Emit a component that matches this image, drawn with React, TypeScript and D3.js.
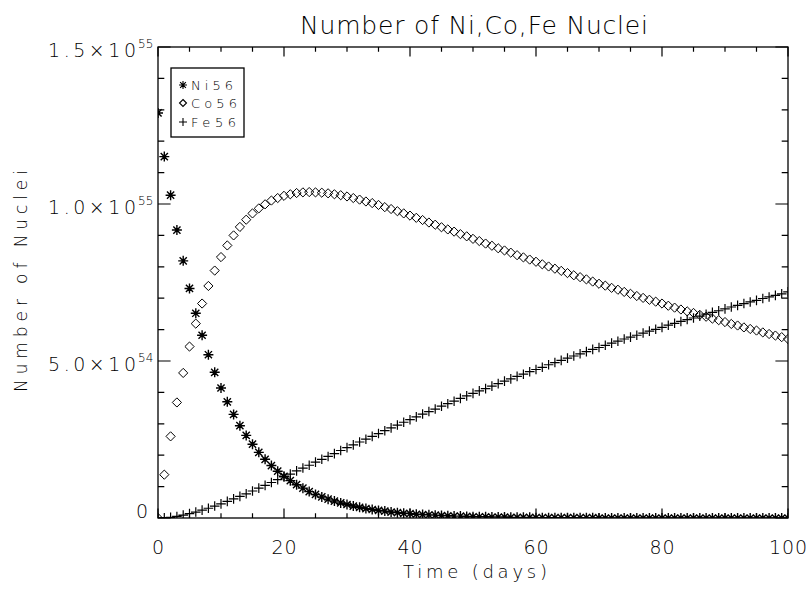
import React from "react";
import * as d3 from "d3";

// Values in units of 1e54 nuclei, one sample per day (day = index, 0..100)
const niValues: number[] = [
  12.90, 11.51, 10.28, 9.17, 8.19, 7.31, 6.52, 5.82, 5.20, 4.64,
  4.14, 3.70, 3.30, 2.94, 2.63, 2.35, 2.09, 1.87, 1.67, 1.49,
  1.33, 1.19, 1.06, 0.95, 0.84, 0.75, 0.67, 0.60, 0.54, 0.48,
  0.43, 0.38, 0.34, 0.30, 0.27, 0.24, 0.22, 0.19, 0.17, 0.15,
  0.14, 0.12, 0.11, 0.10, 0.09, 0.08, 0.07, 0.06, 0.06, 0.05,
  0.04, 0.04, 0.04, 0.03, 0.03, 0.03, 0.02, 0.02, 0.02, 0.02,
  0.01, 0.01, 0.01, 0.01, 0.01, 0.01, 0.01, 0.01, 0.01, 0.01,
  0, 0, 0, 0, 0, 0, 0, 0, 0, 0,
  0, 0, 0, 0, 0, 0, 0, 0, 0, 0,
  0, 0, 0, 0, 0, 0, 0, 0, 0, 0,
  0,
];

const coValues: number[] = [
  0.00, 1.38, 2.60, 3.68, 4.62, 5.46, 6.19, 6.83, 7.39, 7.88,
  8.31, 8.68, 9.00, 9.27, 9.50, 9.70, 9.86, 9.99, 10.11, 10.19,
  10.26, 10.31, 10.35, 10.37, 10.38, 10.37, 10.36, 10.34, 10.31, 10.28,
  10.24, 10.19, 10.14, 10.08, 10.03, 9.97, 9.90, 9.84, 9.77, 9.70,
  9.63, 9.56, 9.49, 9.41, 9.34, 9.26, 9.19, 9.12, 9.04, 8.97,
  8.89, 8.82, 8.74, 8.67, 8.59, 8.52, 8.45, 8.37, 8.30, 8.23,
  8.16, 8.08, 8.01, 7.94, 7.87, 7.80, 7.73, 7.67, 7.60, 7.53,
  7.46, 7.40, 7.33, 7.27, 7.20, 7.14, 7.07, 7.01, 6.95, 6.89,
  6.83, 6.76, 6.70, 6.64, 6.58, 6.53, 6.47, 6.41, 6.35, 6.30,
  6.24, 6.18, 6.13, 6.07, 6.02, 5.97, 5.91, 5.86, 5.81, 5.76,
  5.70,
];

const feValues: number[] = [
  0.00, 0.01, 0.02, 0.05, 0.09, 0.14, 0.19, 0.25, 0.31, 0.38,
  0.45, 0.53, 0.61, 0.69, 0.77, 0.86, 0.95, 1.04, 1.13, 1.22,
  1.31, 1.40, 1.50, 1.59, 1.68, 1.78, 1.87, 1.96, 2.05, 2.15,
  2.24, 2.33, 2.42, 2.51, 2.60, 2.69, 2.78, 2.87, 2.96, 3.05,
  3.13, 3.22, 3.31, 3.39, 3.47, 3.56, 3.64, 3.72, 3.81, 3.89,
  3.97, 4.05, 4.12, 4.20, 4.28, 4.36, 4.43, 4.51, 4.58, 4.66,
  4.73, 4.80, 4.88, 4.95, 5.02, 5.09, 5.16, 5.23, 5.30, 5.37,
  5.43, 5.50, 5.57, 5.63, 5.70, 5.76, 5.82, 5.89, 5.95, 6.01,
  6.07, 6.14, 6.20, 6.26, 6.32, 6.37, 6.43, 6.49, 6.55, 6.60,
  6.66, 6.72, 6.77, 6.83, 6.88, 6.93, 6.99, 7.04, 7.09, 7.14,
  7.20,
];

const xMajorTicks: number[] = [0, 20, 40, 60, 80, 100];
const xMinorTicks: number[] = [5, 10, 15, 25, 30, 35, 45, 50, 55, 65, 70, 75, 85, 90, 95];
const yMajorTicks: number[] = [0, 5, 10, 15];
const yMinorTicks: number[] = [1, 2, 3, 4, 6, 7, 8, 9, 11, 12, 13, 14];
const yTickMain: string[] = ["0", "5.0×10", "1.0×10", "1.5×10"];
const yTickExp: string[] = ["", "54", "55", "55"];

const legendNames: string[] = ["Ni56", "Co56", "Fe56"];
const legendWidths: number[] = [42, 46, 45];

const W = 810;
const H = 592;
const L = 158;
const R = 788;
const T = 47;
const B = 518;
const FONT = "'DejaVu Sans', 'Liberation Sans', Arial, sans-serif";
const FW = 200;

const x = d3.scaleLinear().domain([0, 100]).range([L, R]);
const y = d3.scaleLinear().domain([0, 15]).range([B, T]);

function asterisk(cx: number, cy: number, s: number): string {
  const d = s * 0.72;
  return `M${cx - s},${cy}H${cx + s}M${cx},${cy - s}V${cy + s}M${cx - d},${cy - d}L${cx + d},${cy + d}M${cx - d},${cy + d}L${cx + d},${cy - d}`;
}
function diamond(cx: number, cy: number, s: number): string {
  return `M${cx},${cy - s}L${cx + s},${cy}L${cx},${cy + s}L${cx - s},${cy}Z`;
}
function plus(cx: number, cy: number, s: number): string {
  return `M${cx - s},${cy}H${cx + s}M${cx},${cy - s}V${cy + s}`;
}

export default function App() {
  const xMaj = 9.4;
  const xMin = 4.7;
  const yMaj = 12.6;
  const yMin = 6.3;

  const tickPath =
    xMajorTicks.map((t) => `M${x(t)},${B}V${B - xMaj}M${x(t)},${T}V${T + xMaj}`).join("") +
    xMinorTicks.map((t) => `M${x(t)},${B}V${B - xMin}M${x(t)},${T}V${T + xMin}`).join("") +
    yMajorTicks.map((t) => `M${L},${y(t)}H${L + yMaj}M${R},${y(t)}H${R - yMaj}`).join("") +
    yMinorTicks.map((t) => `M${L},${y(t)}H${L + yMin}M${R},${y(t)}H${R - yMin}`).join("");

  const niPath = niValues.map((v, i) => asterisk(x(i), y(v), 5)).join("");
  const coPath = coValues.map((v, i) => diamond(x(i), y(v), 4.6)).join("");
  const fePath = feValues.map((v, i) => plus(x(i), y(v), 4.8)).join("");

  const legendY = [85, 103, 122];
  const legendShapes = [
    asterisk(183, legendY[0], 4),
    diamond(183, legendY[1], 3.5),
    plus(183, legendY[2], 4),
  ];

  return (
    <svg
      width={W}
      height={H}
      viewBox={`0 0 ${W} ${H}`}
      style={{ position: "absolute", left: 0, top: 0, background: "#fff" }}
      fontFamily={FONT}
      fontWeight={FW}
    >
      <rect x={0} y={0} width={W} height={H} fill="#fff" />
      <defs>
        <clipPath id="plotClip">
          <rect x={L} y={T} width={R - L} height={B - T} />
        </clipPath>
      </defs>

      <text x={474} y={34} fontSize={25} textAnchor="middle" textLength={348} lengthAdjust="spacing" fill="#000">
        Number of Ni,Co,Fe Nuclei
      </text>

      <g clipPath="url(#plotClip)" fill="none" stroke="#000">
        <path d={fePath} strokeWidth={1.2} />
        <path d={coPath} strokeWidth={1} />
        <path d={niPath} strokeWidth={1.4} />
      </g>

      <rect x={L} y={T} width={R - L} height={B - T} fill="none" stroke="#000" strokeWidth={1.3} />
      <path d={tickPath} stroke="#000" strokeWidth={1.2} fill="none" />

      {xMajorTicks.map((t) => {
        const s = String(t);
        return (
          <text
            key={"xl" + t}
            x={x(t)}
            y={554}
            fontSize={19}
            textAnchor="middle"
            textLength={s.length * 13 - 1}
            lengthAdjust="spacing"
            fill="#000"
          >
            {s}
          </text>
        );
      })}

      {yMajorTicks.map((t, i) =>
        t === 0 ? (
          <text key="yl0" x={142} y={518} fontSize={19} textAnchor="middle" fill="#000">
            0
          </text>
        ) : (
          <g key={"yl" + t}>
            <text x={48} y={y(t) + 10} fontSize={19} textLength={88} lengthAdjust="spacing" fill="#000">
              {yTickMain[i]}
            </text>
            <text x={138} y={y(t) + 1} fontSize={12} fill="#000">
              {yTickExp[i]}
            </text>
          </g>
        )
      )}

      <text
        transform="translate(27,281) rotate(-90)"
        fontSize={17}
        textAnchor="middle"
        textLength={222}
        lengthAdjust="spacing"
        fill="#000"
      >
        Number of Nuclei
      </text>

      <text x={475} y={578} fontSize={18} textAnchor="middle" textLength={144} lengthAdjust="spacing" fill="#000">
        Time (days)
      </text>

      <rect x={171} y={68} width={73} height={69} fill="#fff" stroke="#000" strokeWidth={1.3} />
      {legendNames.map((n, i) => (
        <g key={n}>
          <path d={legendShapes[i]} stroke="#000" strokeWidth={1.1} fill="none" />
          <text
            x={191}
            y={legendY[i] + 4.5}
            fontSize={13}
            textLength={legendWidths[i]}
            lengthAdjust="spacing"
            fill="#000"
          >
            {n}
          </text>
        </g>
      ))}
    </svg>
  );
}
